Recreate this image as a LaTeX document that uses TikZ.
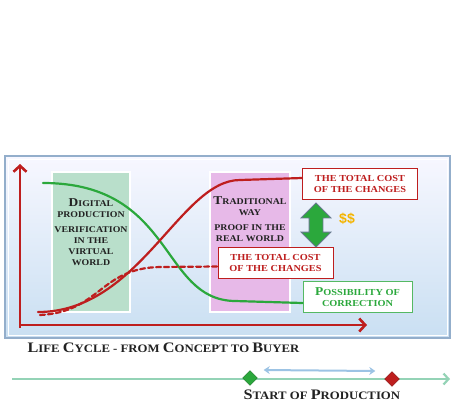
\documentclass[tikz,border=0pt]{standalone}
\usepackage{fontspec}
\setmainfont{Liberation Serif}
\setsansfont{Liberation Sans}
\newfontfamily\widefont{Liberation Serif}[FakeStretch=1.12]
\usetikzlibrary{positioning,shapes.geometric,shapes.arrows,arrows.meta,shadows}
\definecolor{costred}{HTML}{BE1E1E}
\definecolor{fixgreen}{HTML}{2BA83C}
\definecolor{digitalgreen}{HTML}{B9DFCB}
\definecolor{tradpink}{HTML}{E7B9E8}
\definecolor{textdark}{HTML}{222222}
\definecolor{panelblue}{HTML}{C9DFF2}
\definecolor{frameblue}{HTML}{93AECB}
\definecolor{linegreen}{HTML}{94D3B6}
\definecolor{spanblue}{HTML}{9CC3E4}
\definecolor{gold}{HTML}{F4B400}
\newcommand\initial[1]{{\fontsize{12}{10}\selectfont #1}}
\newcommand\biginitial[1]{{\fontsize{14.5}{10}\selectfont #1}}
\tikzset{phase/.style={draw=white,line width=1.5pt,minimum width=78pt,minimum height=140pt,
    drop shadow={opacity=0.25,shadow xshift=1pt,shadow yshift=-1.2pt}}}
\tikzset{phasetext/.style={font=\widefont\bfseries\fontsize{8.8}{10.8}\selectfont,text=textdark,align=center,inner sep=2pt}}
\tikzset{labelbox/.style={fill=white,line width=1pt,font=\widefont\bfseries\fontsize{9.2}{11}\selectfont,align=center,minimum height=31pt}}
\tikzset{costbox/.style={labelbox,draw=costred,text=costred,minimum width=115pt}}
\tikzset{fixbox/.style={labelbox,draw=fixgreen!80,text=fixgreen,minimum width=109pt}}
\tikzset{curve/.style={line width=2.2pt,line cap=round}}
\tikzset{axis/.style={draw=costred,line width=2.6pt,-{Straight Barb[length=6pt,width=13pt]}}}
\tikzset{caption/.style={font=\widefont\bfseries\fontsize{11.4}{12}\selectfont,text=textdark,anchor=west}}

\begin{document}
\begin{tikzpicture}[x=1pt,y=-1pt]
        \useasboundingbox (0,0) rectangle (452,402);
        % panel
        \shade[top color=blue!3,bottom color=panelblue] (5,156) rectangle (450,338);
        \draw[frameblue,line width=1.5pt] (5,156) rectangle (450,338);
        \draw[white,line width=0.8pt] (8,159) rectangle (447,335);
        % phases
        \node[phase,fill=digitalgreen] (digital) at (91,242) {};
        \node[phasetext,below=25pt of digital.north] (digitaltext)
            {\initial{D}IGITAL\\PRODUCTION\\[5pt]VERIFICATION\\IN THE\\VIRTUAL\\WORLD};
        \node[phase,fill=tradpink,minimum width=80pt] (traditional) at (250,242) {};
        \node[phasetext,below=23pt of traditional.north] (traditionaltext)
            {\initial{T}RADITIONAL\\WAY\\[5pt]PROOF IN THE\\REAL WORLD};
        % labels
        \node[costbox] (realcost) at (360,184) {THE TOTAL COST\\OF THE CHANGES};
        \node[costbox] (virtualcost) at (275.5,262.5) {THE TOTAL COST\\OF THE CHANGES};
        \node[fixbox] (correction) at (357.5,297) {\initial{P}OSSIBILITY OF\\CORRECTION};
        \node[double arrow,draw=frameblue!70!black,fill=fixgreen,line width=0.8pt,rotate=90,
            minimum height=44pt,inner sep=6.5pt,double arrow head extend=8pt] (gap) at (316,225) {};
        \node[font=\sffamily\bfseries\fontsize{14}{14}\selectfont,text=gold] (dollars) at (347,219) {\$\$};
        % curves
        \coordinate (fixstart) at (43,183);
        \coordinate (realstart) at (38,312);
        \coordinate (virtualstart) at (40,315);
        \draw[curve,fixgreen] (fixstart) .. controls (175,183) and (160,300) .. (235,301)
            -- ([yshift=-6pt]correction.west);
        \draw[curve,costred] (realstart) .. controls (140,312) and (180,180) .. (240,180)
            -- ([yshift=6pt]realcost.west);
        \draw[curve,costred,dashed,dash pattern=on 5pt off 3pt] (virtualstart)
            .. controls (100,312) and (100,268) .. (160,267) -- ([yshift=-4pt]virtualcost.west);
        % axes
        \coordinate (origin) at (20,325);
        \draw[axis] ([yshift=-3pt]origin) -- (20,164);
        \draw[axis] ([xshift=-1pt]origin) -- (367,325);
        % life cycle
        \node[caption] (lifecycle) at (24,348)
            {\biginitial{L}IFE \biginitial{C}YCLE - FROM \biginitial{C}ONCEPT TO \biginitial{B}UYER};
        \coordinate (linestart) at (12,379);
        \coordinate (lineend) at (450,379);
        \draw[linegreen,line width=2.2pt,-{Straight Barb[length=5pt,width=11pt]}] (linestart) -- (lineend);
        \node[diamond,fill=fixgreen,draw=fixgreen!70!black,line width=0.4pt,minimum size=15pt,inner sep=0pt] (sopmark) at (250,378) {};
        \node[diamond,fill=costred,draw=costred!70!black,line width=0.4pt,minimum size=15pt,inner sep=0pt] (endmark) at (392,379) {};
        \draw[spanblue,line width=2pt,{Stealth[length=6pt,width=8pt]}-{Stealth[length=6pt,width=8pt]}]
            ([xshift=6pt,yshift=8pt]sopmark.east) -- ([xshift=-9pt,yshift=8pt]endmark.west);
        \node[caption] (sop) at (240,395) {\biginitial{S}TART OF \biginitial{P}RODUCTION};
    \end{tikzpicture}
\end{document}
